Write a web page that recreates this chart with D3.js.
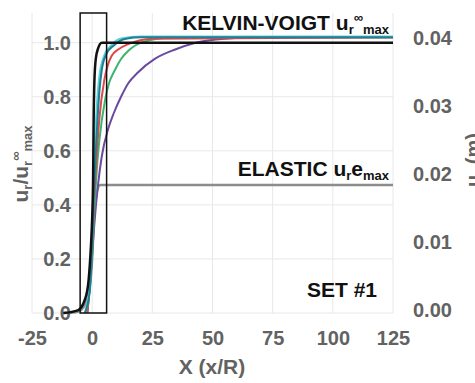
<!DOCTYPE html>
<html><head><meta charset="utf-8">
<script src="https://cdn.jsdelivr.net/npm/d3@7"></script>
<style>body{margin:0;background:#fff}svg{display:block}</style>
</head><body><svg id="c" width="475" height="383"></svg>
<script>
// ---- data ----
const xTicks = [-25, 0, 25, 50, 75, 100, 125];
const yTicksLeft = [0, 0.2, 0.4, 0.6, 0.8, 1.0];
const yTicksRight = [0, 0.01, 0.02, 0.03, 0.04];
const zoomBox = [-5, 6];

const blackX = [-12, -6, -3, -1.5, -0.5, 0, 0.4, 0.6, 0.9, 1.5, 2.5, 4, 125];
const blackY = [0, 0.01, 0.05, 0.12, 0.25, 0.35, 0.5, 0.7, 0.85, 0.94, 0.98, 1.0, 1.0];
const elasticX = [-12, -6, -3, -1.5, -0.5, 0, 0.5, 1, 2, 3.3, 125];
const elasticY = [0, 0.005, 0.03, 0.07, 0.14, 0.2, 0.3, 0.38, 0.45, 0.474, 0.474];
const purpleX = [-2, -1, 0, 1, 2.5, 4, 6.6, 9, 12, 15, 19, 26, 34.5, 43, 55, 70, 125];
const purpleY = [0, 0.1, 0.22, 0.34, 0.48, 0.58, 0.68, 0.74, 0.8, 0.85, 0.89, 0.94, 0.975, 1.0, 1.015, 1.02, 1.02];
const greenX = [-2, 0, 1, 2, 3, 5.4, 7, 9.5, 12, 15, 22, 35, 125];
const greenY = [0, 0.22, 0.4, 0.54, 0.64, 0.79, 0.85, 0.9, 0.94, 0.97, 1.005, 1.02, 1.02];
const redX = [-2, 0, 1, 2, 3, 5, 6.6, 8, 10.8, 15, 25, 125];
const redY = [0, 0.25, 0.45, 0.6, 0.72, 0.86, 0.92, 0.95, 0.975, 0.995, 1.015, 1.02];
const cyanX = [-3, -1, 0, 1, 2, 3, 5, 8, 12, 20, 125];
const cyanY = [0, 0.1, 0.3, 0.58, 0.76, 0.87, 0.95, 0.99, 1.015, 1.022, 1.022];
const tealX = [-3, -1, 0, 1, 2, 3, 4, 6, 9, 14, 20, 125];
const tealY = [0, 0.08, 0.25, 0.5, 0.68, 0.82, 0.9, 0.96, 0.99, 1.015, 1.02, 1.02];

const series = [
  {x: elasticX, y: elasticY, color: "#8c8c8c", w: 2.5},
  {x: purpleX, y: purpleY, color: "#6a4a9e", w: 2},
  {x: greenX, y: greenY, color: "#3cb46e", w: 2},
  {x: redX, y: redY, color: "#e04848", w: 2},
  {x: cyanX, y: cyanY, color: "#62d0d8", w: 2.5},
  {x: tealX, y: tealY, color: "#1f7f96", w: 2},
  {x: blackX, y: blackY, color: "#111111", w: 2.5}
];

// ---- layout ----
const svg = d3.select("#c");
const x = d3.scaleLinear().domain([-25, 125]).range([32, 393]);
const y = d3.scaleLinear().domain([0, 1.11]).range([313, 13]);
const yR = d3.scaleLinear().domain([0, 0.0437]).range([310, 13]);
const tickColor = "#626262";
const font = "'Liberation Sans', Arial, sans-serif";

// grid
svg.append("g").selectAll("line.v").data(xTicks).join("line")
  .attr("x1", d => x(d)).attr("x2", d => x(d)).attr("y1", y(0)).attr("y2", y(1.11))
  .attr("stroke", "#e8e8e8").attr("stroke-width", 1);
svg.append("g").selectAll("line.h").data(yTicksLeft).join("line")
  .attr("x1", x(-25)).attr("x2", x(125)).attr("y1", d => y(d)).attr("y2", d => y(d))
  .attr("stroke", "#e8e8e8").attr("stroke-width", 1);

// axes (labels only)
const axL = svg.append("g").attr("transform", `translate(${x(-25)},0)`)
  .call(d3.axisLeft(y).tickValues(yTicksLeft).tickFormat(d3.format(".1f")).tickSize(0));
const axB = svg.append("g").attr("transform", `translate(0,${y(0)})`)
  .call(d3.axisBottom(x).tickValues(xTicks).tickFormat(d => String(d)).tickSize(0).tickPadding(18));
const axR = svg.append("g").attr("transform", `translate(${x(125)},0)`)
  .call(d3.axisRight(yR).tickValues(yTicksRight).tickFormat(d3.format(".2f")).tickSize(0).tickPadding(20));
[axL, axB, axR].forEach(a => {
  a.select(".domain").remove();
  a.selectAll("text").attr("fill", tickColor).attr("font-family", font)
    .attr("font-weight", "bold").attr("font-size", 20);
});
axL.selectAll("text").attr("x", 71 - x(-25)).attr("text-anchor", "end");

// lines
const line = d3.line().curve(d3.curveMonotoneX);
series.forEach(s => {
  const pts = s.x.map((v, i) => [x(v), y(s.y[i])]);
  svg.append("path").attr("d", line(pts)).attr("fill", "none")
    .attr("stroke", s.color).attr("stroke-width", s.w).attr("stroke-linejoin", "round");
});

// zoom box
svg.append("rect").attr("x", x(zoomBox[0])).attr("y", y(1.11))
  .attr("width", x(zoomBox[1]) - x(zoomBox[0])).attr("height", y(0) - y(1.11))
  .attr("fill", "none").attr("stroke", "#111").attr("stroke-width", 1.5);

// annotations
const kv = svg.append("text").attr("x", 389).attr("y", 30).attr("text-anchor", "end")
  .attr("font-family", font).attr("font-weight", "bold").attr("font-size", 21).attr("fill", "#111");
kv.append("tspan").text("KELVIN-VOIGT u");
kv.append("tspan").attr("font-size", 13).attr("dy", 4).text("r");
kv.append("tspan").attr("font-size", 13).attr("dy", -12).text("∞");
kv.append("tspan").attr("font-size", 13).attr("dy", 12).text("max");

const el = svg.append("text").attr("x", 389).attr("y", 176).attr("text-anchor", "end")
  .attr("font-family", font).attr("font-weight", "bold").attr("font-size", 21).attr("fill", "#111");
el.append("tspan").text("ELASTIC u");
el.append("tspan").attr("font-size", 13).attr("dy", 4).text("r");
el.append("tspan").attr("dy", -4).text("e");
el.append("tspan").attr("font-size", 13).attr("dy", 4).text("max");

svg.append("text").attr("x", 377).attr("y", 297).attr("text-anchor", "end")
  .attr("font-family", font).attr("font-weight", "bold").attr("font-size", 21).attr("fill", "#111")
  .text("SET #1");

// axis titles
svg.append("text").attr("x", 212).attr("y", 374).attr("text-anchor", "middle")
  .attr("font-family", font).attr("font-weight", "bold").attr("font-size", 21).attr("fill", tickColor)
  .text("X (x/R)");

const lt = svg.append("text").attr("transform", "translate(28,164) rotate(-90)").attr("text-anchor", "middle")
  .attr("font-family", font).attr("font-weight", "bold").attr("font-size", 21).attr("fill", tickColor);
lt.append("tspan").text("u");
lt.append("tspan").attr("font-size", 13).attr("dy", 4).text("r");
lt.append("tspan").attr("dy", -4).text("/u");
lt.append("tspan").attr("font-size", 13).attr("dy", 4).text("r");
lt.append("tspan").attr("font-size", 13).attr("dy", -12).text("∞");
lt.append("tspan").attr("font-size", 13).attr("dy", 12).text("max");

const rt = svg.append("text").attr("transform", "translate(480,160) rotate(-90)").attr("text-anchor", "middle")
  .attr("font-family", font).attr("font-weight", "bold").attr("font-size", 20).attr("fill", tickColor);
rt.append("tspan").text("u");
rt.append("tspan").attr("font-size", 13).attr("dy", 4).text("r");
rt.append("tspan").attr("dy", -4).text(" (m)");
</script></body></html>
